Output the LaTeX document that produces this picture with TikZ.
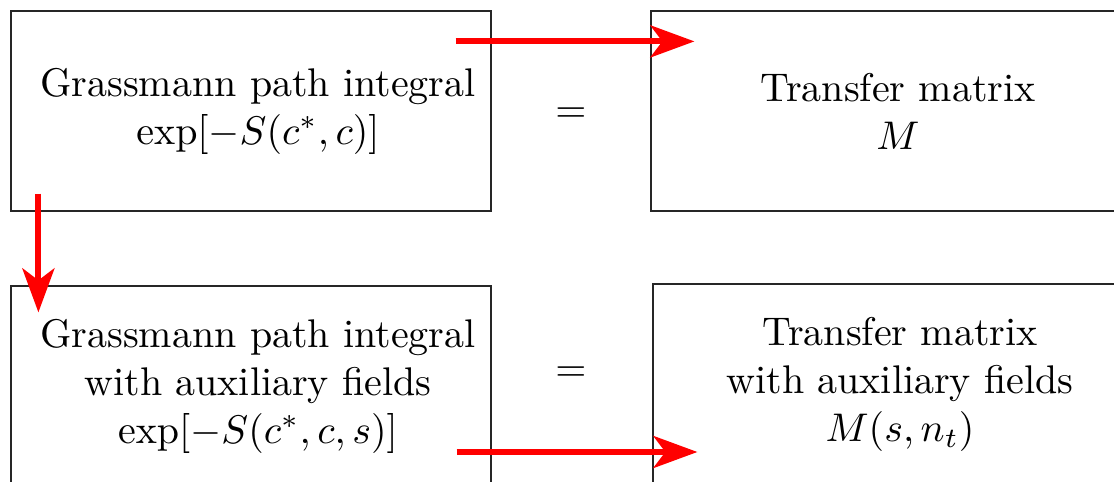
\documentclass[tikz,border=0pt]{standalone}
\usepackage{tikz}
\usetikzlibrary{arrows.meta, calc}

\begin{document}
\begin{tikzpicture}[x=0.25pt, y=0.25pt,
  box/.style={draw=black!85, line width=0.3pt, minimum width=120pt, minimum height=50pt, inner sep=0pt},
  txt/.style={align=center},
  redarrow/.style={draw=red, line width=1.5pt, -{Stealth[length=11pt, width=8pt, inset=3pt]}}]

\useasboundingbox (0,0) rectangle (1114,482);
\clip (0,0) rectangle (1114,482);

% Top row: path integral = transfer matrix
\node[box] (gpi) at (251,371) {};
\node[txt] (gpitxt) at ($(gpi)+(7,0)$) {Grassmann path integral\\$\exp[-S(c^*,c)]$};
\node (eqtop) at (571,367) {$=$};
\node[box] (tm) at (891,371) {};
\node[txt] (tmtxt) at ($(tm)+(7,0)$) {Transfer matrix\\$M$};

% Bottom row: with auxiliary fields
\node[box] (gpiaux) at (251,96) {};
\node[txt] (gpiauxtxt) at ($(gpiaux)+(7,0)$) {Grassmann path integral\\with auxiliary fields\\$\exp[-S(c^*,c,s)]$};
\node (eqbot) at (571,108) {$=$};
\node[box] (tmaux) at (893,98) {};
\node[txt] (tmauxtxt) at ($(tmaux)+(7,0)$) {Transfer matrix\\with auxiliary fields\\$M(s,n_t)$};

% Red arrows
\coordinate (a1) at ($(gpi.north east)+(-36,-31)$);
\coordinate (b1) at ($(tm.north west)+(44,-31)$);
\coordinate (a2) at ($(gpi.south west)+(28,18)$);
\coordinate (b2) at ($(gpiaux.north west)+(28,-27)$);
\coordinate (a3) at ($(gpiaux.east)+(-35,-66)$);
\coordinate (b3) at ($(tmaux.west)+(45,-68)$);
\draw[redarrow] (a1) -- (b1);
\draw[redarrow] (a2) -- (b2);
\draw[redarrow] (a3) -- (b3);

\end{tikzpicture}
\end{document}
